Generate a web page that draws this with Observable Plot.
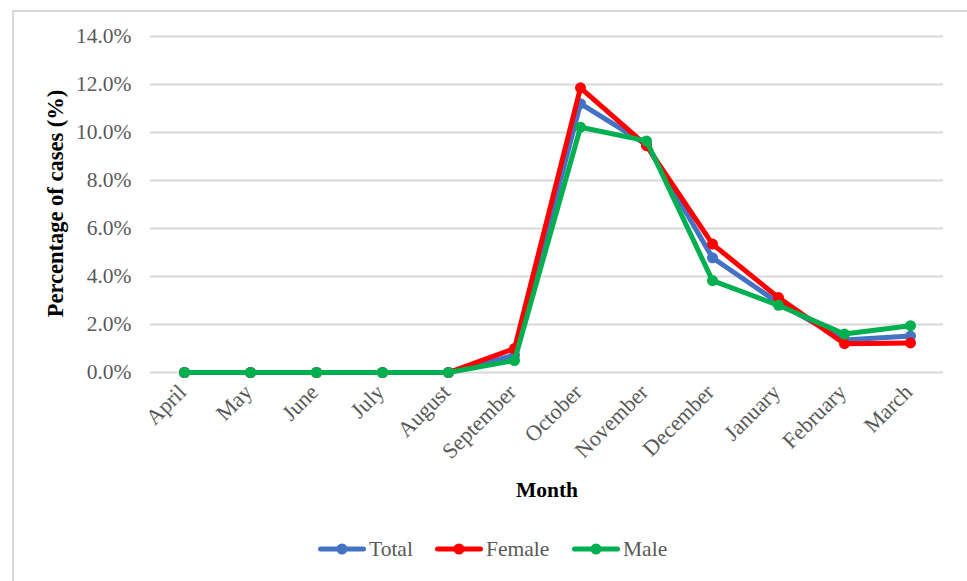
<!DOCTYPE html>
<html>
<head>
<meta charset="utf-8">
<script src="https://cdn.jsdelivr.net/npm/d3@7"></script>
<script src="https://cdn.jsdelivr.net/npm/@observablehq/plot@0.6"></script>
<style>
  html, body { margin: 0; padding: 0; background: #fff; }
  body { width: 967px; height: 581px; position: relative; overflow: hidden; font-family: "Liberation Serif", "Times New Roman", serif; }
  #frame { position: absolute; left: 12px; top: 10px; width: 980px; height: 600px; border-left: 2px solid #d9d9d9; border-top: 2px solid #d9d9d9; }
  #chart { position: absolute; left: 0; top: 0; }
  .leg { position: absolute; top: 535px; height: 28px; display: flex; align-items: center; font-size: 21.5px; color: #595959; }
  .leg svg { display: block; margin-right: 3px; }
</style>
</head>
<body>
<div id="frame"></div>
<div id="chart"></div>
<div id="legend"></div>
<script>
const months = ["April","May","June","July","August","September","October","November","December","January","February","March"];
const seriesNames = ["Total","Female","Male"];
const seriesColors = ["#4472C4","#FF0000","#00B050"];
const total  = [0,0,0,0,0,0.0072,0.1120,0.0950,0.0478,0.0290,0.0135,0.0152];
const female = [0,0,0,0,0,0.0100,0.1186,0.0945,0.0535,0.0312,0.0120,0.0123];
const male   = [0,0,0,0,0,0.0050,0.1022,0.0965,0.0383,0.0280,0.0160,0.0195];
const yTicks = [0,0.02,0.04,0.06,0.08,0.10,0.12,0.14];

const seriesValues = [total, female, male];
const font = "'Liberation Serif', 'Times New Roman', serif";

const seriesMarks = [];
seriesNames.forEach((name, i) => {
  const rows = months.map((m, j) => ({month: m, value: seriesValues[i][j], series: name}));
  seriesMarks.push(Plot.line(rows, {x: "month", y: "value", stroke: "series", strokeWidth: 5, strokeLinejoin: "round", strokeLinecap: "round"}));
  seriesMarks.push(Plot.dot(rows, {x: "month", y: "value", fill: "series", r: 5.5}));
});

const chart = Plot.plot({
  width: 967,
  height: 520,
  marginLeft: 150,
  marginRight: 24,
  marginTop: 36,
  marginBottom: 148,
  style: {fontFamily: font, fontSize: "21.5px", background: "transparent", overflow: "visible"},
  x: {type: "point", domain: months, padding: 0.5, axis: null},
  y: {domain: [0, 0.14], axis: null},
  color: {domain: seriesNames, range: seriesColors},
  marks: [
    Plot.ruleY(yTicks, {stroke: "#d9d9d9", strokeWidth: 2}),
    Plot.axisY(yTicks, {tickFormat: d3.format(".1%"), tickSize: 0, tickPadding: 19, fontSize: 21.5, color: "#595959", label: null}),
    Plot.text(months, {x: d => d, frameAnchor: "bottom", dx: 3, dy: 21, rotate: -45, textAnchor: "end", fontSize: 22, fill: "#595959"}),
    Plot.text(["Percentage of cases (%)"], {frameAnchor: "left", textAnchor: "middle", dx: -95, dy: -1, rotate: -90, fontSize: 22.5, fontWeight: "bold", fill: "#000"}),
    Plot.text(["Month"], {frameAnchor: "bottom", textAnchor: "middle", dy: 124, fontSize: 21.5, fontWeight: "bold", fill: "#000"}),
    ...seriesMarks
  ]
});
document.getElementById("chart").appendChild(chart);

const legendLefts = [318, 435, 572];
const legend = document.getElementById("legend");
seriesNames.forEach((name, i) => {
  const item = document.createElement("div");
  item.className = "leg";
  item.style.left = legendLefts[i] + "px";
  item.innerHTML = `<svg width="48" height="14"><line x1="2.5" y1="7" x2="45.5" y2="7" stroke="${seriesColors[i]}" stroke-width="5" stroke-linecap="round"/><circle cx="24" cy="7" r="5.5" fill="${seriesColors[i]}"/></svg><span>${name}</span>`;
  legend.appendChild(item);
});
</script>
</body>
</html>
